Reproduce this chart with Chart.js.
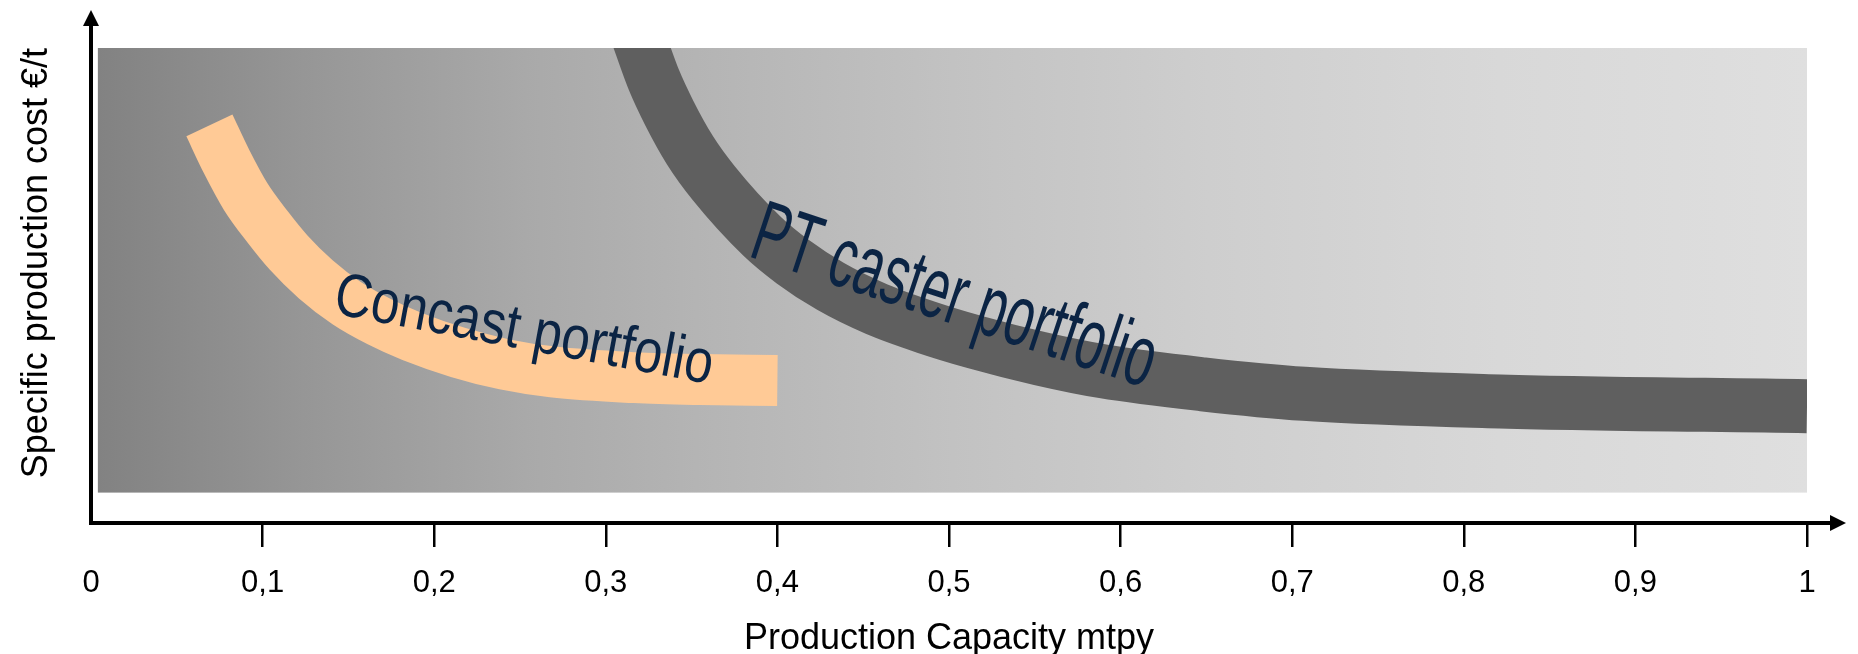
<!DOCTYPE html>
<html><head><meta charset="utf-8">
<script src="https://cdn.jsdelivr.net/npm/chart.js@4.4.1/dist/chart.umd.min.js"></script>
<style>html,body{margin:0;padding:0;background:#fff;overflow:hidden}#wrap{width:1858px;height:654px;position:relative}</style>
</head><body><div id="wrap"><canvas id="c"></canvas></div>
<script>
// ---- data ----
const xTickLabels = ['0','0,1','0,2','0,3','0,4','0,5','0,6','0,7','0,8','0,9','1'];
const seriesNames = ['Concast portfolio','PT caster portfolio'];
const concastCapacity = [0.069,0.079,0.090,0.103,0.115,0.131,0.149,0.168,0.187,0.214,0.241,0.269,0.317,0.355,0.400];
const concastCost     = [83.7,76.1,68.8,62.3,57.0,51.3,46.3,42.4,39.3,35.9,33.4,31.8,30.6,30.2,30.0];
const ptCapacity = [0.315,0.321,0.328,0.337,0.349,0.363,0.391,0.409,0.431,0.458,0.486,0.515,0.553,0.590,0.648,0.707,0.821,1.0];
const ptCost     = [106.5,100.2,93.3,86.3,78.5,71.5,60.4,55.0,49.8,45.0,41.3,38.1,34.6,31.9,29.2,27.2,25.6,24.6];

Chart.defaults.font.family = '"Liberation Sans", Arial, sans-serif';

const diagramPlugin = {
  id: 'diagram',
  beforeDatasetsDraw(chart, args, opts) {
    const {ctx, scales: {x, y}} = chart;
    const f = opts.frame;
    const l = x.getPixelForValue(f.x0), r = x.getPixelForValue(f.x1);
    const t = y.getPixelForValue(f.y1), b = y.getPixelForValue(f.y0);
    const g = ctx.createLinearGradient(l, 0, r, 0);
    f.stops.forEach(s => g.addColorStop(s[0], s[1]));
    ctx.save();
    ctx.fillStyle = g;
    ctx.fillRect(l, t, r - l, b - t);
    ctx.restore();
  },
  afterDatasetsDraw(chart, args, opts) {
    const {ctx, scales: {x, y}} = chart;
    opts.labels.forEach(lb => {
      const px = x.getPixelForValue(lb.x), py = y.getPixelForValue(lb.y);
      const size = lb.capHeight / 0.716;
      ctx.save();
      ctx.translate(px, py);
      ctx.rotate(lb.angle * Math.PI / 180);
      ctx.font = size + 'px "Liberation Sans", Arial, sans-serif';
      const w = ctx.measureText(lb.text).width;
      ctx.scale(lb.width / w, 1);
      ctx.fillStyle = lb.color;
      ctx.textBaseline = 'alphabetic';
      ctx.textAlign = 'left';
      ctx.fillText(lb.text, 0, 0);
      ctx.restore();
    });
  },
  afterDraw(chart, args, opts) {
    const {ctx, chartArea: {left, bottom}} = chart;
    const a = opts.axes;
    ctx.save();
    ctx.strokeStyle = a.color; ctx.fillStyle = a.color; ctx.lineWidth = a.width; ctx.lineCap = 'butt';
    ctx.beginPath(); ctx.moveTo(left, bottom + a.width / 2); ctx.lineTo(left, a.yTip + a.headLen - 1); ctx.stroke();
    ctx.beginPath(); ctx.moveTo(left, a.yTip); ctx.lineTo(left - a.headHalf, a.yTip + a.headLen); ctx.lineTo(left + a.headHalf, a.yTip + a.headLen); ctx.closePath(); ctx.fill();
    ctx.beginPath(); ctx.moveTo(left - a.width / 2, bottom); ctx.lineTo(a.xTip - a.headLen + 1, bottom); ctx.stroke();
    ctx.beginPath(); ctx.moveTo(a.xTip, bottom); ctx.lineTo(a.xTip - a.headLen, bottom - a.headHalf); ctx.lineTo(a.xTip - a.headLen, bottom + a.headHalf); ctx.closePath(); ctx.fill();
    ctx.restore();
  }
};

const tickCol = c => c.index === 0 ? 'rgba(0,0,0,0)' : '#000';

new Chart(document.getElementById('c'), {
  type: 'line',
  data: {
    datasets: [
      { label: seriesNames[0], data: concastCapacity.map((v, i) => ({x: v, y: concastCost[i]})),
        borderColor: '#ffca96', borderWidth: 51 },
      { label: seriesNames[1], data: ptCapacity.map((v, i) => ({x: v, y: ptCost[i]})),
        borderColor: '#5f5f5f', borderWidth: 54 }
    ]
  },
  options: {
    responsive: true, maintainAspectRatio: false, animation: false, devicePixelRatio: 1,
    layout: { padding: { top: 48, right: 51, bottom: 0, left: 0 } },
    elements: {
      point: { radius: 0, hoverRadius: 0 },
      line: { cubicInterpolationMode: 'monotone', borderCapStyle: 'butt', borderJoinStyle: 'round', fill: false }
    },
    plugins: {
      legend: { display: false },
      tooltip: { enabled: false },
      diagram: {
        frame: { x0: 0.004, x1: 1, y0: 6.4, y1: 100,
          stops: [[0,'#828282'],[0.12,'#969696'],[0.25,'#a9a9a9'],[0.35,'#b4b4b4'],[0.5,'#c2c2c2'],[0.65,'#cecece'],[0.82,'#d8d8d8'],[1,'#dfdfdf']] },
        labels: [
          { text: seriesNames[0], x: 0.1404, y: 44.15, angle: 10.6, capHeight: 44, width: 384, color: '#0b2444' },
          { text: seriesNames[1], x: 0.3823, y: 56.2, angle: 18.3, capHeight: 62, width: 420, color: '#0b2444' }
        ],
        axes: { color: '#000', width: 4, yTip: 10, xTip: 1846, headLen: 16, headHalf: 8 }
      }
    },
    scales: {
      x: {
        type: 'linear', min: 0, max: 1, position: 'bottom',
        afterFit: s => { s.height = 131; },
        ticks: { stepSize: 0.1, padding: 18, color: '#000', font: { size: 31 }, maxRotation: 0, autoSkip: false,
                 callback: (v, i) => xTickLabels[i] },
        grid: { display: true, drawOnChartArea: false, drawTicks: true, tickLength: 24, tickWidth: 2.5, lineWidth: 2.5,
                color: tickCol, tickColor: tickCol },
        border: { display: false },
        title: { display: true, text: 'Production Capacity mtpy', color: '#000', font: { size: 36 }, padding: { top: 0, bottom: -7 } }
      },
      y: {
        type: 'linear', min: 0, max: 100, position: 'left',
        afterFit: s => { s.width = 91; },
        ticks: { display: false },
        grid: { display: false },
        border: { display: false },
        title: { display: true, text: 'Specific production cost €/t', color: '#000', font: { size: 36 }, align: 'end', padding: { top: 15, bottom: 0 } }
      }
    }
  },
  plugins: [diagramPlugin]
});
</script>
</body></html>
